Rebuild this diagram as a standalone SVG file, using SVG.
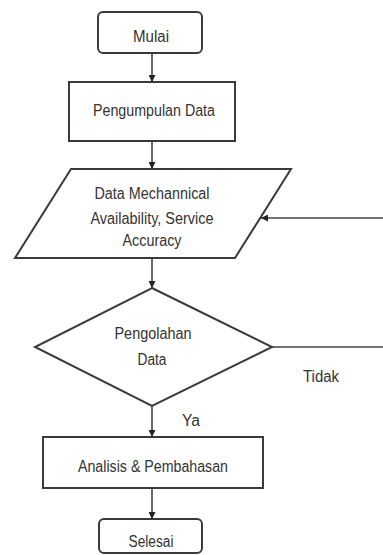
<svg xmlns="http://www.w3.org/2000/svg" width="383" height="555" viewBox="0 0 383 555">
<style>
.s{fill:#fff;stroke:#3a3a3a;stroke-width:2}
.c{fill:none;stroke:#444;stroke-width:1.6}
text{font-family:"Liberation Sans",Arial,sans-serif;font-size:16px;fill:#333;text-anchor:middle}
</style>
<defs>
<marker id="ah" viewBox="0 0 10 10" refX="10" refY="5" markerWidth="7" markerHeight="7" markerUnits="userSpaceOnUse" orient="auto">
<path d="M0,0 L10,5 L0,10 Z" fill="#222"/>
</marker>
</defs>
<g id="connectors">
<line class="c" x1="152" y1="53" x2="152" y2="82" marker-end="url(#ah)"/>
<line class="c" x1="152" y1="141" x2="152" y2="169" marker-end="url(#ah)"/>
<line class="c" x1="152" y1="258" x2="152" y2="288" marker-end="url(#ah)"/>
<line class="c" x1="152" y1="406" x2="152" y2="437" marker-end="url(#ah)"/>
<line class="c" x1="152" y1="488" x2="152" y2="519" marker-end="url(#ah)"/>
<line class="c" x1="272" y1="347" x2="383" y2="347"/>
<line class="c" x1="383" y1="218" x2="261" y2="218" marker-end="url(#ah)"/>
<text x="321" y="382" textLength="36" lengthAdjust="spacingAndGlyphs">Tidak</text>
<text x="191" y="426" textLength="18" lengthAdjust="spacingAndGlyphs">Ya</text>
</g>
<g id="mulai">
<rect class="s" x="98" y="12" width="104" height="41" rx="5"/>
<text x="151" y="42" textLength="36" lengthAdjust="spacingAndGlyphs">Mulai</text>
</g>
<g id="pengumpulan">
<rect class="s" x="69" y="82" width="166" height="59"/>
<text x="154" y="116" textLength="122" lengthAdjust="spacingAndGlyphs">Pengumpulan Data</text>
</g>
<g id="data-input">
<polygon class="s" points="71,169 291,169 235,258 15,258"/>
<text x="152" y="199" textLength="115" lengthAdjust="spacingAndGlyphs">Data Mechannical</text>
<text x="152" y="224" textLength="123" lengthAdjust="spacingAndGlyphs">Availability, Service</text>
<text x="152" y="246" textLength="59" lengthAdjust="spacingAndGlyphs">Accuracy</text>
</g>
<g id="pengolahan">
<polygon class="s" points="152,288 272,347 152,406 35,347"/>
<text x="153" y="339" textLength="77" lengthAdjust="spacingAndGlyphs">Pengolahan</text>
<text x="152" y="365" textLength="29" lengthAdjust="spacingAndGlyphs">Data</text>
</g>
<g id="analisis">
<rect class="s" x="43" y="437" width="220" height="51"/>
<text x="153" y="472" textLength="150" lengthAdjust="spacingAndGlyphs">Analisis &amp; Pembahasan</text>
</g>
<g id="selesai">
<rect class="s" x="99" y="519" width="103" height="34" rx="5"/>
<text x="151" y="547" textLength="45" lengthAdjust="spacingAndGlyphs">Selesai</text>
</g>
</svg>
